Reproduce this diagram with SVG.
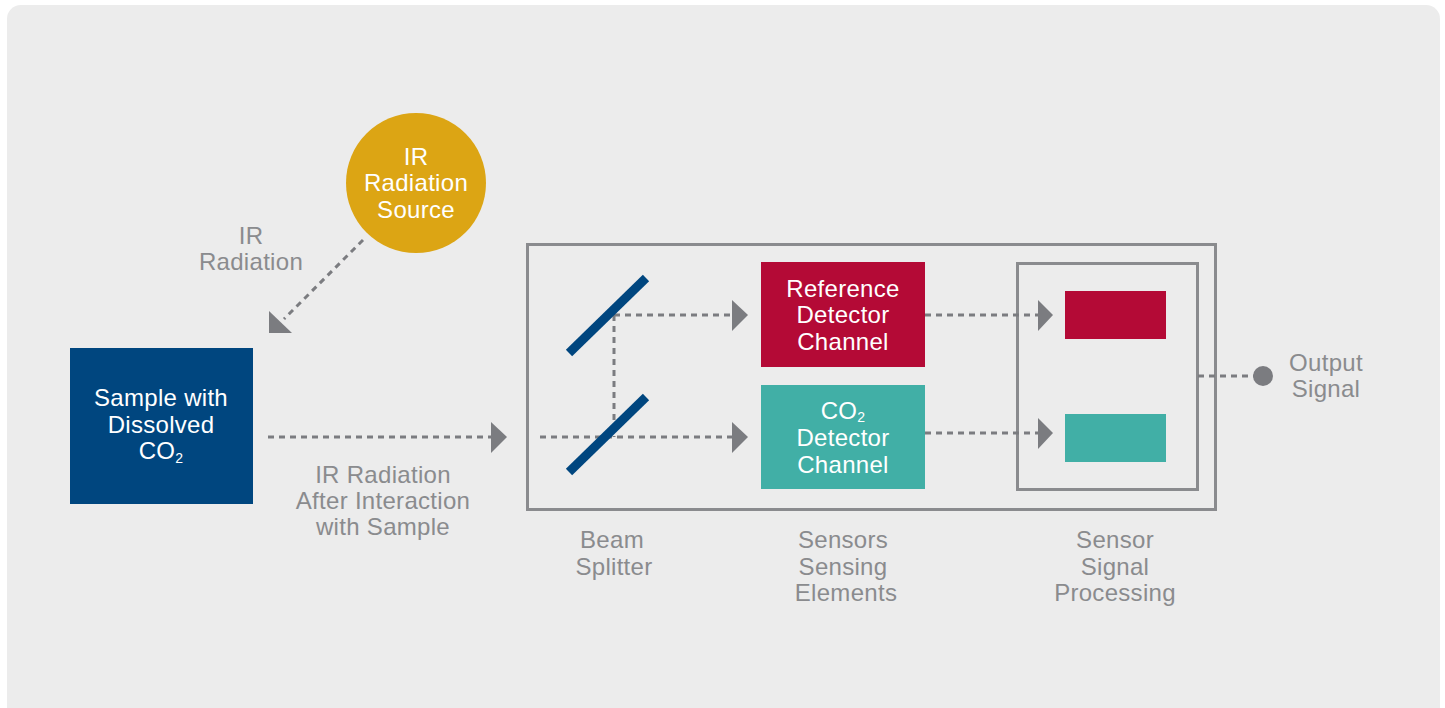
<svg xmlns="http://www.w3.org/2000/svg" width="1445" height="708" viewBox="0 0 1445 708">
<defs>
<style>
.t{font-family:"Liberation Sans",Arial,sans-serif;font-size:24px;letter-spacing:0.3px;text-anchor:middle}
.w{fill:#ffffff}
.g{fill:#8a8b8e}
.d{stroke:#7b7c80;stroke-width:3;stroke-dasharray:6 5;fill:none}
.a{fill:#7b7c80}
.frame{fill:none;stroke:#8a8b8e;stroke-width:3}
.mirror{stroke:#00467f;stroke-width:9;stroke-linecap:butt}
</style>
</defs>
<rect x="0" y="0" width="1445" height="708" fill="#ffffff"/>
<rect x="7" y="5" width="1433" height="720" rx="14" fill="#ececec"/>

<g id="frames">
<rect x="527.5" y="244.5" width="688" height="265" class="frame"/>
<rect x="1017.5" y="263.5" width="180" height="226" class="frame"/>
</g>

<g id="connectors">
<line x1="363" y1="240" x2="284" y2="319" class="d"/>
<polygon points="269,311 269,333 292,333" class="a"/>
<line x1="268" y1="437" x2="492" y2="437" class="d"/>
<polygon points="491,422 507,437 491,453" class="a"/>
<line x1="540" y1="437" x2="733" y2="437" class="d"/>
<polygon points="732,422 748,437 732,453" class="a"/>
<line x1="614" y1="315" x2="614" y2="437" class="d"/>
<line x1="614" y1="315" x2="733" y2="315" class="d"/>
<polygon points="732,300 748,315 732,331" class="a"/>
<line x1="925" y1="315" x2="1038" y2="315" class="d"/>
<polygon points="1038,300 1053,315 1038,331" class="a"/>
<line x1="925" y1="433" x2="1038" y2="433" class="d"/>
<polygon points="1038,418 1053,433 1038,449" class="a"/>
<line x1="1198" y1="376" x2="1258" y2="376" class="d"/>
<circle cx="1263" cy="376" r="10" class="a"/>
</g>

<g id="ir-source">
<circle cx="416" cy="183" r="70" fill="#dca514"/>
<text class="t w" x="416" y="165">IR</text>
<text class="t w" x="416" y="191">Radiation</text>
<text class="t w" x="416" y="218">Source</text>
</g>

<g id="ir-label">
<text class="t g" x="251" y="244">IR</text>
<text class="t g" x="251" y="270">Radiation</text>
</g>

<g id="sample">
<rect x="70" y="348" width="183" height="156" fill="#00467f"/>
<text class="t w" x="161" y="406">Sample with</text>
<text class="t w" x="161" y="433">Dissolved</text>
<text class="t w" x="161" y="459">CO<tspan font-size="14" dy="4">2</tspan></text>
</g>

<g id="after-label">
<text class="t g" x="383" y="483">IR Radiation</text>
<text class="t g" x="383" y="509">After Interaction</text>
<text class="t g" x="383" y="535">with Sample</text>
</g>

<g id="beam-splitter">
<line x1="569" y1="353" x2="646" y2="278" class="mirror"/>
<line x1="569" y1="472" x2="646" y2="397" class="mirror"/>
</g>

<g id="reference-detector">
<rect x="761" y="262" width="164" height="105" fill="#b40a36"/>
<text class="t w" x="843" y="297">Reference</text>
<text class="t w" x="843" y="323">Detector</text>
<text class="t w" x="843" y="350">Channel</text>
</g>

<g id="co2-detector">
<rect x="761" y="385" width="164" height="104" fill="#41afa6"/>
<text class="t w" x="843" y="419">CO<tspan font-size="14" dy="3">2</tspan></text>
<text class="t w" x="843" y="446">Detector</text>
<text class="t w" x="843" y="473">Channel</text>
</g>

<g id="ref-processing">
<rect x="1065" y="291" width="101" height="48" fill="#b40a36"/>
</g>
<g id="co2-processing">
<rect x="1065" y="414" width="101" height="48" fill="#41afa6"/>
</g>

<g id="output-label">
<text class="t g" x="1326" y="371">Output</text>
<text class="t g" x="1326" y="397">Signal</text>
</g>

<g id="bottom-labels">
<text class="t g" x="612" y="548">Beam</text>
<text class="t g" x="614" y="575">Splitter</text>
<text class="t g" x="843" y="548">Sensors</text>
<text class="t g" x="843" y="575">Sensing</text>
<text class="t g" x="846" y="601">Elements</text>
<text class="t g" x="1115" y="548">Sensor</text>
<text class="t g" x="1115" y="575">Signal</text>
<text class="t g" x="1115" y="601">Processing</text>
</g>
</svg>
